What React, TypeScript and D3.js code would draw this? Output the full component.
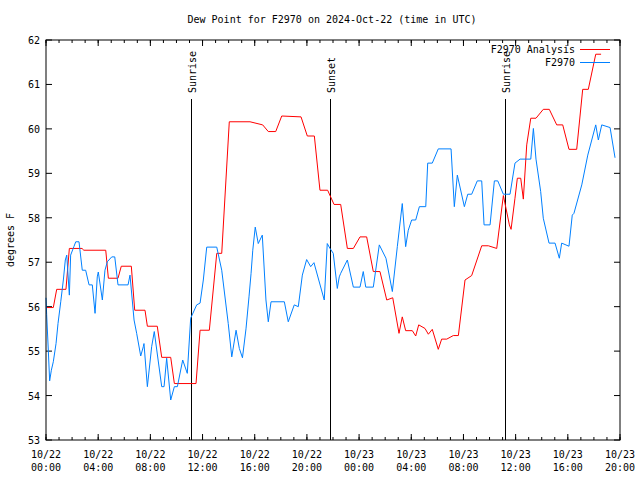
import React from "react";
import * as d3 from "d3";

const START = Date.UTC(2024, 9, 22, 0, 0);
const END = Date.UTC(2024, 9, 23, 20, 0);

// hours since 2024-10-22 00:00 UTC
const analysisHours = [0.0,0.56,0.82,1.53,1.79,2.76,2.9,4.58,4.78,5.52,5.77,6.54,6.8,7.59,7.77,8.53,8.87,9.56,9.84,11.5,11.81,12.52,13.09,13.47,14.05,15.64,16.61,17.04,17.61,18.07,19.55,20.03,20.57,21.0,21.59,22.08,22.59,23.1,23.56,24.07,24.58,25.09,25.6,26.12,26.58,27.06,27.31,27.57,28.08,28.34,28.57,29.05,29.31,29.61,30.07,30.33,30.72,31.22,31.61,32.12,32.63,33.4,33.91,34.55,35.06,35.52,35.65,35.95,36.13,36.39,36.59,36.85,37.16,37.56,38.12,38.58,39.15,39.61,40.09,40.68,41.14,41.57,42.14,42.55];
const analysisValues = [55.98,55.98,56.39,56.39,57.31,57.31,57.27,57.27,56.64,56.64,56.91,56.91,55.92,55.92,55.56,55.56,54.86,54.86,54.27,54.27,55.47,55.47,57.2,57.2,60.16,60.16,60.09,59.94,59.94,60.29,60.27,59.84,59.84,58.62,58.62,58.3,58.3,57.31,57.31,57.57,57.57,56.79,56.79,56.15,56.2,55.4,55.77,55.46,55.46,55.34,55.59,55.51,55.38,55.49,55.04,55.27,55.27,55.35,55.35,56.6,56.7,57.37,57.37,57.31,58.5,57.84,57.74,58.44,58.89,58.89,58.42,59.64,60.24,60.24,60.44,60.44,60.09,60.09,59.54,59.54,60.89,60.89,61.68,61.68];

const obsHours = [0.0,0.05,0.18,0.28,0.41,0.56,0.77,0.92,1.13,1.33,1.48,1.59,1.79,1.89,2.15,2.28,2.53,2.78,3.04,3.3,3.55,3.76,3.93,4.01,4.32,4.52,4.7,5.04,5.27,5.52,6.29,6.44,6.75,6.95,7.26,7.46,7.51,7.77,8.1,8.3,8.87,9.05,9.25,9.56,9.84,10.07,10.48,10.83,11.09,11.55,11.81,12.06,12.32,13.09,13.47,13.97,14.24,14.57,14.82,15.06,15.33,15.56,15.72,15.85,16.04,16.27,16.58,16.86,17.04,17.25,18.27,18.57,19.03,19.34,19.65,19.98,20.29,20.54,21.33,21.56,21.77,22.02,22.33,22.48,22.59,23.1,23.56,24.07,24.32,24.51,25.09,25.55,26.06,26.55,26.93,27.31,27.57,27.77,28.03,28.34,28.62,29.11,29.26,29.61,30.07,31.05,31.3,31.53,32.07,32.33,32.63,33.06,33.4,33.58,34.04,34.37,34.63,35.06,35.57,35.95,36.34,37.16,37.36,37.56,37.92,38.12,38.56,39.02,39.35,39.53,40.09,40.34,40.47,41.07,41.53,42.14,42.34,42.6,43.24,43.62];
const obsValues = [56.2,55.83,55.0,54.33,54.57,54.76,55.17,55.62,56.11,56.6,57.05,57.16,56.26,57.16,57.36,57.46,57.46,56.82,56.82,56.49,56.49,55.85,56.67,56.78,56.15,56.82,57.01,57.12,57.12,56.49,56.49,56.71,55.7,55.4,54.89,55.1,55.17,54.2,55.1,55.44,54.2,54.2,54.84,53.9,54.2,54.2,54.8,54.5,55.74,56.04,56.08,56.6,57.34,57.34,56.82,55.62,54.87,55.47,55.06,54.85,55.5,56.22,56.75,57.27,57.79,57.42,57.61,56.15,55.66,56.11,56.11,55.66,56.04,56.0,56.71,57.06,56.9,56.99,56.15,57.42,57.31,57.2,56.41,56.67,56.75,57.05,56.44,56.44,56.79,56.44,56.44,57.39,57.09,56.34,57.35,58.32,57.35,57.72,57.95,57.95,58.25,58.25,59.23,59.23,59.55,59.55,58.25,58.96,58.25,58.53,58.53,58.83,58.83,57.84,57.84,58.83,58.83,58.53,58.53,59.23,59.32,59.32,60.01,59.32,58.59,57.99,57.43,57.43,57.09,57.43,57.36,58.06,58.1,58.74,59.41,60.09,59.75,60.09,60.03,59.35];

const eventNames = ["Sunrise", "Sunset", "Sunrise"];
const eventHours = [11.12, 21.77, 35.19];

const seriesNames = ["F2970 Analysis", "F2970"];
const seriesColors = ["#ff0000", "#0080ff"];

const yTicks = [53, 54, 55, 56, 57, 58, 59, 60, 61, 62];

const W = 640, H = 480;
const M = { left: 46, right: 620, top: 40, bottom: 440 };
const FONT = "'DejaVu Sans Mono', monospace";

const toDate = (h: number) => new Date(START + h * 3600 * 1000);

export default function App() {
  const x = d3.scaleUtc().domain([new Date(START), new Date(END)]).range([M.left, M.right]);
  const y = d3.scaleLinear().domain([53, 62]).range([M.bottom, M.top]);

  const line = d3.line<[number, number]>()
    .x((d) => x(toDate(d[0])))
    .y((d) => y(d[1]));

  const analysis: [number, number][] = analysisHours.map((h, i) => [h, analysisValues[i]]);
  const obs: [number, number][] = obsHours.map((h, i) => [h, obsValues[i]]);

  const minorTicks = x.ticks(d3.utcHour.every(1)!);
  const majorTicks = x.ticks(d3.utcHour.every(4)!);
  const fmtD = d3.utcFormat("%m/%d");
  const fmtT = d3.utcFormat("%H:%M");

  return (
    <svg width={W} height={H} style={{ position: "absolute", left: 0, top: 0, background: "#fff" }}>
      <rect x={0} y={0} width={W} height={H} fill="#fff" />
      <text x={332} y={23} textAnchor="middle" fontFamily={FONT} fontSize={10} fill="#000">
        Dew Point for F2970 on 2024-Oct-22 (time in UTC)
      </text>
      <text transform={`translate(14,240) rotate(-90)`} textAnchor="middle" fontFamily={FONT} fontSize={10} fill="#000">
        degrees F
      </text>
      {/* y ticks */}
      {yTicks.map((t) => (
        <g key={"y" + t}>
          <line x1={M.left} x2={M.left + 6} y1={y(t)} y2={y(t)} stroke="#000" />
          <line x1={M.right} x2={M.right - 6} y1={y(t)} y2={y(t)} stroke="#000" />
          <text x={40} y={y(t) + 4} textAnchor="end" fontFamily={FONT} fontSize={10} fill="#000">{t}</text>
        </g>
      ))}
      {/* x ticks */}
      {minorTicks.map((t, i) => (
        <g key={"xm" + i}>
          <line x1={x(t)} x2={x(t)} y1={M.bottom} y2={M.bottom - 3} stroke="#000" />
          <line x1={x(t)} x2={x(t)} y1={M.top} y2={M.top + 3} stroke="#000" />
        </g>
      ))}
      {majorTicks.map((t, i) => (
        <g key={"xM" + i}>
          <line x1={x(t)} x2={x(t)} y1={M.bottom} y2={M.bottom - 6} stroke="#000" />
          <line x1={x(t)} x2={x(t)} y1={M.top} y2={M.top + 6} stroke="#000" />
          <text x={x(t)} y={458} textAnchor="middle" fontFamily={FONT} fontSize={10} fill="#000">{fmtD(t)}</text>
          <text x={x(t)} y={471} textAnchor="middle" fontFamily={FONT} fontSize={10} fill="#000">{fmtT(t)}</text>
        </g>
      ))}
      {/* events */}
      {eventHours.map((h, i) => {
        const ex = Math.round(x(toDate(h))) + 0.5;
        return (
          <g key={"e" + i}>
            <line x1={ex} x2={ex} y1={M.bottom} y2={99} stroke="#000" strokeWidth={1} />
            <text transform={`translate(${ex + 4},93) rotate(-90)`} textAnchor="start" fontFamily={FONT} fontSize={10} fill="#000">
              {eventNames[i]}
            </text>
          </g>
        );
      })}
      <path d={line(analysis) || ""} fill="none" stroke={seriesColors[0]} strokeWidth={1} />
      <path d={line(obs) || ""} fill="none" stroke={seriesColors[1]} strokeWidth={1} />
      {/* legend */}
      {seriesNames.map((n, i) => (
        <g key={"l" + i}>
          <text x={575} y={53 + i * 13} textAnchor="end" fontFamily={FONT} fontSize={10} fill="#000">{n}</text>
          <line x1={580} x2={610} y1={49.5 + i * 13} y2={49.5 + i * 13} stroke={seriesColors[i]} strokeWidth={1} />
        </g>
      ))}
      <rect x={M.left} y={M.top} width={M.right - M.left} height={M.bottom - M.top} fill="none" stroke="#000" strokeWidth={1} />
    </svg>
  );
}
